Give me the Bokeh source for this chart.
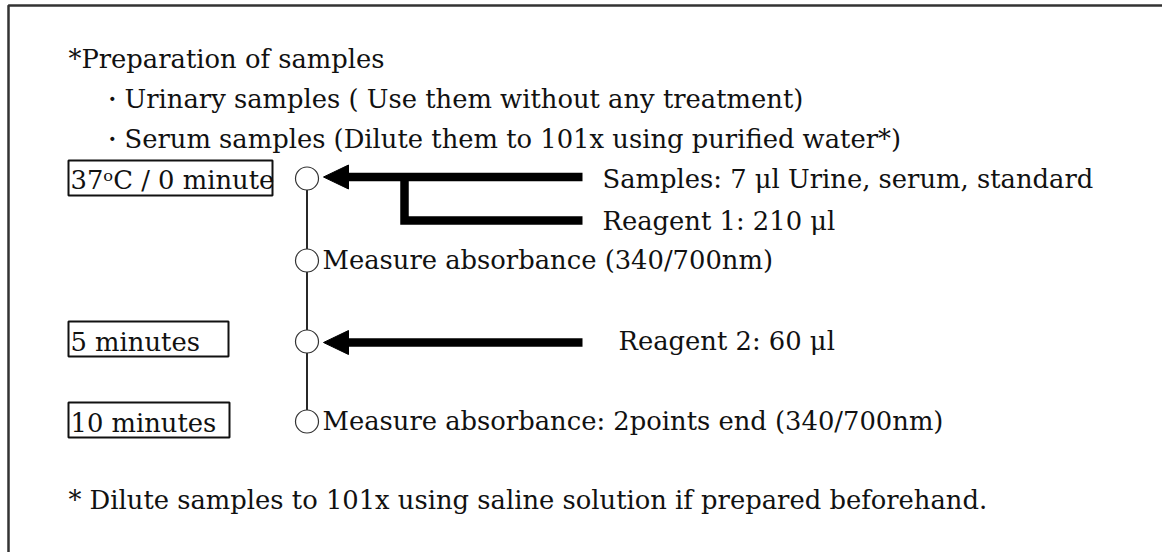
from bokeh.plotting import figure
from bokeh.models import Range1d
from bokeh.core.properties import value
from bokeh.embed import file_html
from bokeh.resources import INLINE

# ---- content ----
prep_lines = [
    "*Preparation of samples",
    "・Urinary samples ( Use them without any treatment)",
    "・Serum samples (Dilute them to 101x using purified water*)",
]
time_labels = ["37ᵒC / 0 minute", "5 minutes", "10 minutes"]
step_notes = ["", "Measure absorbance (340/700nm)", "", "Measure absorbance: 2points end (340/700nm)"]
additions = ["Samples: 7 μl Urine, serum, standard", "Reagent 1: 210 μl", "Reagent 2: 60 μl"]
footnote = "* Dilute samples to 101x using saline solution if prepared beforehand."

# ---- layout (reference pixel coordinates) ----
FONT = value("DejaVu Serif")
FS = "25.8px"
TB = 9  # offset from baseline to text middle
W, H = 1162, 552
p = figure(width=W, height=H, output_backend="svg", toolbar_location=None,
           x_range=Range1d(0, W), y_range=Range1d(H, 0), min_border=0)
p.axis.visible = False
p.grid.visible = False
p.outline_line_color = None
p.background_fill_color = "white"


def txt(xs, baselines, texts):
    p.text(x=xs, y=[b - TB for b in baselines], text=texts, text_font=FONT,
           text_font_size=FS, text_baseline="middle", text_color="#111111")


# outer frame (top and left edges)
p.line([8, 8, W], [H, 5, 5], line_color="#333333", line_width=2.5)

# preparation text
txt([68, 98, 98], [67, 107, 147], prep_lines)

# time boxes
box_l = [68, 68, 68]
box_r = [272, 228, 229]
box_t = [160, 321, 402]
box_b = [195, 356, 437]
p.quad(left=box_l, right=box_r, top=box_t, bottom=box_b, fill_color=None,
       line_color="#111111", line_width=2)
txt([70, 70, 70], [188, 350, 431], time_labels)

# timeline
cx = 306.5
cy = [178, 260, 341, 421]
r = 11.5
p.segment(x0=[cx] * 3, y0=[cy[i] + r for i in range(3)], x1=[cx] * 3,
          y1=[cy[i + 1] - r for i in range(3)], line_color="#111111", line_width=1.8)
p.scatter(x=[cx] * 4, y=cy, size=2 * r, marker="circle", fill_color="white",
          line_color="#333333", line_width=1.2)
txt([322] * 4, [c + 8 for c in cy], step_notes)

# arrows
shaft_y = [176.5, 342]
tip_x = 323
head_back = 348
shaft_end = 582
p.segment(x0=[head_back - 2] * 2, y0=shaft_y, x1=[shaft_end] * 2, y1=shaft_y,
          line_color="black", line_width=8.5)
p.patches(xs=[[tip_x, head_back, head_back] for _ in shaft_y],
          ys=[[y, y - 12, y + 12] for y in shaft_y], fill_color="black", line_color="black")
# bracket for reagent 1
p.line([404, 404, shaft_end], [shaft_y[0], 220, 220], line_color="black",
       line_width=8.5, line_join="miter")

txt([602, 602, 618], [187, 229, 349], additions)

txt([68], [508], [footnote])

open("out.html", "w").write(file_html(p, INLINE))
